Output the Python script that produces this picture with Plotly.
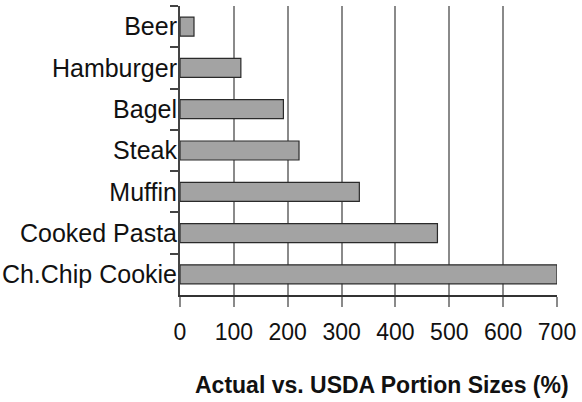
import plotly.graph_objects as go

foods = ["Beer", "Hamburger", "Bagel", "Steak", "Muffin", "Cooked Pasta", "Ch.Chip Cookie"]
portion_pct = [26, 113, 192, 221, 333, 478, 700]
x_ticks = [0, 100, 200, 300, 400, 500, 600, 700]
x_title = "Actual vs. USDA Portion Sizes (%)"

fig = go.Figure()
fig.add_trace(go.Bar(
    x=portion_pct, y=foods, orientation="h",
    marker=dict(color="#a3a3a3", line=dict(color="#2a2a2a", width=1.2)),
    width=0.46,
))

fig.update_layout(
    width=582, height=402,
    margin=dict(l=180, r=25, t=6, b=107, autoexpand=False),
    paper_bgcolor="white", plot_bgcolor="white",
    showlegend=False,
    font=dict(family="Liberation Sans, Arial, sans-serif", color="#111"),
    xaxis=dict(
        range=[0, 700], tickvals=x_ticks, ticktext=[str(v) for v in x_ticks],
        showgrid=True, gridcolor="#8a8a8a", gridwidth=1.5,
        showline=True, linecolor="#333", linewidth=1.5,
        ticks="outside", ticklen=10, tickcolor="#8a8a8a", tickwidth=1.5,
        tickfont=dict(size=23, color="#111"),
        ticklabelstandoff=6,
        zeroline=False, automargin=False,
    ),
    yaxis=dict(
        autorange="reversed",
        showline=True, linecolor="#444", linewidth=2,
        ticks="outside", tickson="boundaries", ticklen=8, tickcolor="#444", tickwidth=1.5,
        tickfont=dict(size=25, color="#111"),
        ticklabelstandoff=-4,
        showgrid=False, automargin=False,
    ),
    annotations=[dict(
        text="<b>" + x_title + "</b>", x=375, xref="x", y=-0.311, yref="paper",
        xanchor="center", yanchor="middle", showarrow=False,
        font=dict(size=23, color="#111", family="Liberation Sans, Arial, sans-serif"),
    )],
)

fig.write_html("out.html", config={"displayModeBar": False},
               post_script="document.body.style.margin='0';")
